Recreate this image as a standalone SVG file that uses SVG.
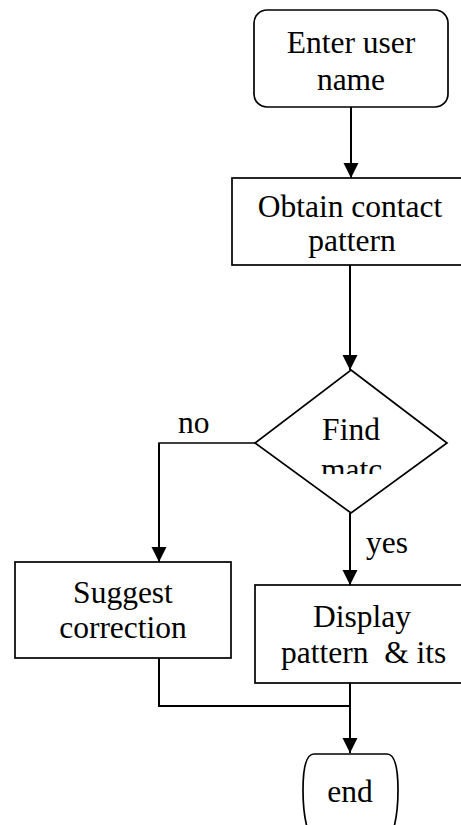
<svg xmlns="http://www.w3.org/2000/svg" width="461" height="825" viewBox="0 0 461 825">
<style>
.box{fill:#fff;stroke:#000;stroke-width:1.7}
.ln{fill:none;stroke:#000;stroke-width:2}
.thin{fill:none;stroke:#000;stroke-width:1.4}
text{font-family:"Liberation Serif","Times New Roman",serif;font-size:31.5px;fill:#000}
.c{text-anchor:middle}
</style>
<defs>
<marker id="ah" markerUnits="userSpaceOnUse" markerWidth="15" markerHeight="16" refX="15" refY="7.5" orient="auto">
<path d="M0,0 L15,7.5 L0,15 z" fill="#000"/>
</marker>
<clipPath id="clipNo"><rect x="150" y="400" width="80" height="33"/></clipPath>
<clipPath id="clipMatch"><rect x="300" y="445" width="100" height="29"/></clipPath>
</defs>
<rect width="461" height="825" fill="#fff"/>
<g id="connectors">
<line class="ln" x1="351" y1="107" x2="351" y2="178" marker-end="url(#ah)"/>
<line class="ln" x1="350" y1="265" x2="350" y2="370" marker-end="url(#ah)"/>
<polyline class="thin" points="255,443 159,443 159,449"/>
<line class="ln" x1="159" y1="443" x2="159" y2="562" marker-end="url(#ah)"/>
<line class="ln" x1="350" y1="513" x2="350" y2="585" marker-end="url(#ah)"/>
<polyline class="ln" points="159,658 159,706 350,706"/>
<line class="ln" x1="350" y1="683" x2="350" y2="753" marker-end="url(#ah)"/>
<text x="178" y="433" clip-path="url(#clipNo)">no</text>
<text x="366" y="553">yes</text>
</g>
<g id="start">
<rect class="box" x="254" y="10" width="194" height="97" rx="13"/>
<text class="c" x="351" y="53">Enter user</text>
<text class="c" x="351" y="90">name</text>
</g>
<g id="obtain">
<rect class="box" x="232" y="178" width="245" height="87"/>
<text class="c" x="350" y="217">Obtain contact</text>
<text class="c" x="352" y="251">pattern</text>
</g>
<g id="decision">
<polygon class="box" points="351,370 447,443 351,513 255,443"/>
<text class="c" x="351" y="440">Find</text>
<text x="321" y="480" clip-path="url(#clipMatch)">matc</text>
</g>
<g id="suggest">
<rect class="box" x="15" y="562" width="216" height="96"/>
<text class="c" x="123" y="603">Suggest</text>
<text class="c" x="123" y="638">correction</text>
</g>
<g id="display">
<rect class="box" x="255" y="585" width="225" height="98"/>
<text class="c" x="362" y="627">Display</text>
<text x="281" y="663" xml:space="preserve" style="white-space:pre">pattern  &amp; its</text>
</g>
<g id="end">
<path class="box" d="M314,754 H387 Q398,754 398,790 Q398,825 388,842 H313 Q303,825 303,790 Q303,754 314,754 Z"/>
<text class="c" x="350" y="802">end</text>
</g>
</svg>
